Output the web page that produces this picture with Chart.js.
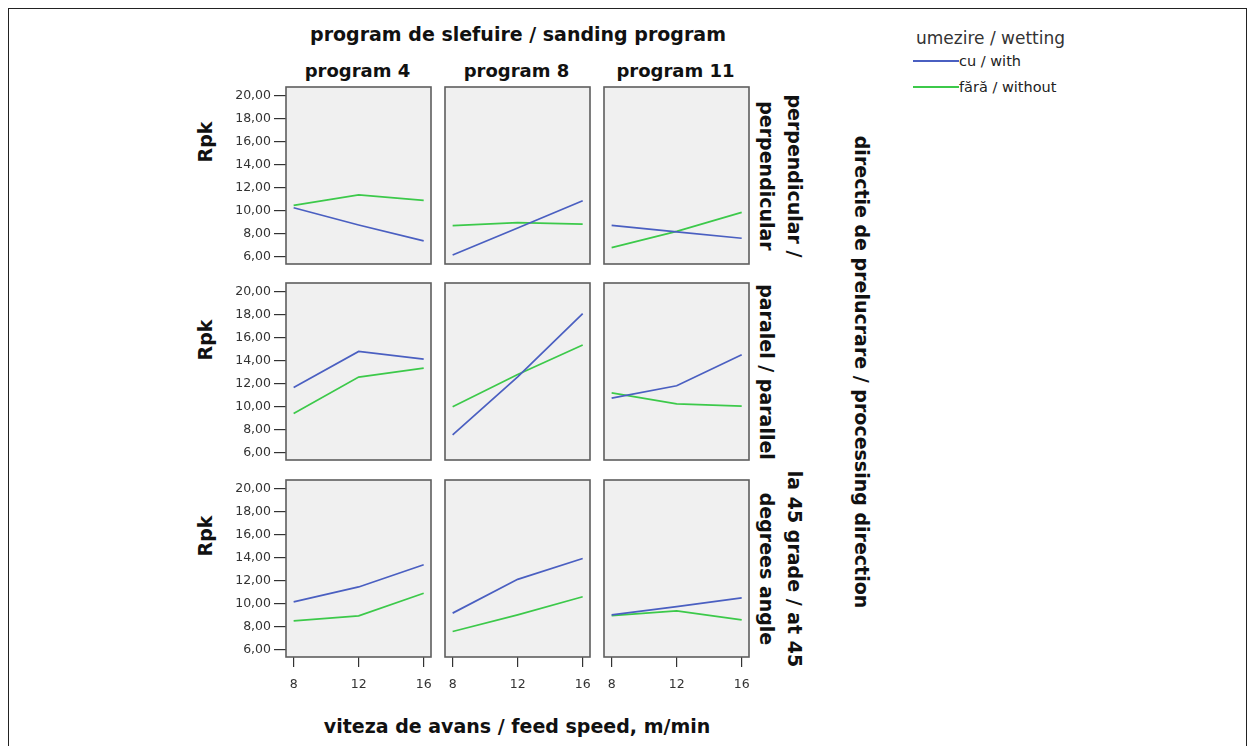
<!DOCTYPE html>
<html>
<head>
<meta charset="utf-8">
<script src="https://cdn.jsdelivr.net/npm/chart.js@4.4.1/dist/chart.umd.min.js"></script>
<style>
  html, body { margin: 0; padding: 0; background: #fff; }
  body { width: 1255px; height: 746px; position: relative; overflow: hidden; font-family: "DejaVu Sans", sans-serif; }
  .frame { position: absolute; left: 8px; top: 8px; width: 1237px; height: 780px; border: 1px solid #222; }
  .lbl { position: absolute; width: 0; height: 0; }
  .lbl span { position: absolute; left: 0; top: 0; white-space: nowrap; line-height: 1; }
  canvas { position: absolute; }
  .key { position: absolute; height: 2px; width: 46px; }
</style>
</head>
<body>
<div class="frame"></div>
<script>
// feed speed (m/min) on the x axis, Rpk on the y axis
const feedSpeed = [8, 12, 16];
const xTicks = [8, 12, 16];
const yTicks = [6, 8, 10, 12, 14, 16, 18, 20];

const programLabels = ['program 4', 'program 8', 'program 11'];
const directionLabels = [
  ['perpendicular /', 'perpendicular'],
  ['paralel / parallel'],
  ['la 45 grade / at 45', 'degrees angle']
];
const wettingLabels = ['cu / with', 'fără / without'];

// Rpk per program (4, 8, 11), each row over feedSpeed
const cuPerpendicular   = [[10.26, 8.76, 7.37], [6.15, 8.50, 10.87], [8.73, 8.15, 7.60]];
const faraPerpendicular = [[10.47, 11.37, 10.90], [8.70, 8.96, 8.84], [6.78, 8.20, 9.86]];
const cuParalel         = [[11.67, 14.81, 14.15], [7.54, 12.60, 18.10], [10.75, 11.82, 14.53]];
const faraParalel       = [[9.40, 12.58, 13.36], [9.99, 12.80, 15.37], [11.20, 10.25, 10.05]];
const cu45              = [[10.16, 11.46, 13.39], [9.18, 12.12, 13.94], [9.03, 9.75, 10.50]];
const fara45            = [[8.51, 8.94, 10.91], [7.58, 9.03, 10.61], [8.97, 9.38, 8.60]];

const cuRows = [cuPerpendicular, cuParalel, cu45];
const faraRows = [faraPerpendicular, faraParalel, fara45];

const BLUE = '#4a5fc1';
const GREEN = '#3cc94a';

// panel grid geometry
const colLeft = [286, 445, 604];
const rowTop = [87, 283, 480];
const panelW = 145, panelH = 177;
const YW = 70, XH = 44, P = 3;

function addText(text, x, y, o) {
  o = o || {};
  const w = document.createElement('div');
  w.className = 'lbl';
  w.style.left = x + 'px';
  w.style.top = y + 'px';
  if (o.rot) w.style.transform = 'rotate(' + o.rot + 'deg)';
  const s = document.createElement('span');
  s.textContent = text;
  s.style.fontSize = (o.size || 19) + 'px';
  s.style.fontWeight = o.bold === false ? 'normal' : 'bold';
  s.style.color = o.color || '#111';
  s.style.transform = o.left ? 'translate(0,-50%)' : 'translate(-50%,-50%)';
  w.appendChild(s);
  document.body.appendChild(w);
}

// titles
addText('program de slefuire / sanding program', 518, 34);
programLabels.forEach((t, i) => addText(t, colLeft[i] + panelW / 2 - 1, 71, { size: 18 }));
addText('viteza de avans / feed speed, m/min', 517, 726);
addText('directie de prelucrare / processing direction', 861, 372, { rot: 90 });

const rpkCenters = [142, 340, 536];
rpkCenters.forEach(y => addText('Rpk', 205, y, { rot: -90 }));

// row labels on the right, first line outermost
directionLabels.forEach((lines, r) => {
  const cy = rowTop[r] + panelH / 2;
  if (lines.length === 1) {
    addText(lines[0], 766, cy, { rot: 90 });
  } else {
    addText(lines[0], 794, cy, { rot: 90 });
    addText(lines[1], 766, cy, { rot: 90 });
  }
});

// legend
addText('umezire / wetting', 916, 38, { size: 17, bold: false, left: true, color: '#333' });
[BLUE, GREEN].forEach((c, i) => {
  const k = document.createElement('div');
  k.className = 'key';
  k.style.left = '913px';
  k.style.top = (60 + i * 26) + 'px';
  k.style.background = c;
  document.body.appendChild(k);
  addText(wettingLabels[i], 959, 61 + i * 26, { size: 14.5, bold: false, left: true, color: '#222' });
});

// grey panel background and frame
const panelFrame = {
  id: 'panelFrame',
  beforeDatasetsDraw(chart) {
    const a = chart.chartArea, ctx = chart.ctx;
    ctx.save();
    ctx.fillStyle = '#f0f0f0';
    ctx.fillRect(a.left, a.top, a.right - a.left, a.bottom - a.top);
    ctx.restore();
  },
  afterDatasetsDraw(chart) {
    const a = chart.ctx, c = chart.chartArea;
    a.save();
    a.strokeStyle = '#5e5e5e';
    a.lineWidth = 1.6;
    a.strokeRect(c.left, c.top, c.right - c.left, c.bottom - c.top);
    a.restore();
  }
};

const tickFont = { family: 'DejaVu Sans', size: 12.5 };
const noPad = s => { s.paddingTop = 0; s.paddingBottom = 0; s.paddingLeft = 0; s.paddingRight = 0; };

function makePanel(r, c) {
  const yShown = c === 0, xShown = r === 2;
  const left = colLeft[c] - (yShown ? YW : P);
  const top = rowTop[r] - P;
  const width = panelW + (yShown ? YW : P) + P;
  const height = panelH + P + (xShown ? XH : P);
  const cv = document.createElement('canvas');
  cv.width = width; cv.height = height;
  cv.style.left = left + 'px'; cv.style.top = top + 'px';
  cv.style.width = width + 'px'; cv.style.height = height + 'px';
  document.body.appendChild(cv);

  const pts = arr => feedSpeed.map((x, i) => ({ x: x, y: arr[i] }));
  new Chart(cv, {
    type: 'line',
    data: {
      datasets: [
        { label: wettingLabels[0], data: pts(cuRows[r][c]), borderColor: BLUE, borderWidth: 1.7, pointRadius: 0, tension: 0 },
        { label: wettingLabels[1], data: pts(faraRows[r][c]), borderColor: GREEN, borderWidth: 1.7, pointRadius: 0, tension: 0 }
      ]
    },
    options: {
      responsive: false,
      animation: false,
      events: [],
      layout: { padding: { left: yShown ? 0 : P, right: P, top: P, bottom: xShown ? 0 : P } },
      plugins: { legend: { display: false }, tooltip: { enabled: false } },
      scales: {
        x: {
          type: 'linear', min: 7.53, max: 16.45,
          display: xShown,
          afterBuildTicks: s => { s.ticks = xTicks.map(v => ({ value: v })); },
          afterFit: s => { s.height = xShown ? XH : 0; noPad(s); },
          border: { display: false },
          grid: { drawOnChartArea: false, tickLength: 10, color: '#333', lineWidth: 1.2 },
          ticks: { font: tickFont, color: '#333', padding: 10, maxRotation: 0, callback: v => String(v) }
        },
        y: {
          type: 'linear', min: 5.36, max: 20.77,
          display: yShown,
          afterBuildTicks: s => { s.ticks = yTicks.map(v => ({ value: v })); },
          afterFit: s => { s.width = yShown ? YW : 0; noPad(s); },
          border: { display: false },
          grid: { drawOnChartArea: false, tickLength: 12, color: '#333', lineWidth: 1.2 },
          ticks: { font: tickFont, color: '#333', padding: 3, callback: v => v.toFixed(2).replace('.', ',') }
        }
      }
    },
    plugins: [panelFrame]
  });
}

for (let r = 0; r < 3; r++) for (let c = 0; c < 3; c++) makePanel(r, c);
</script>
</body>
</html>
